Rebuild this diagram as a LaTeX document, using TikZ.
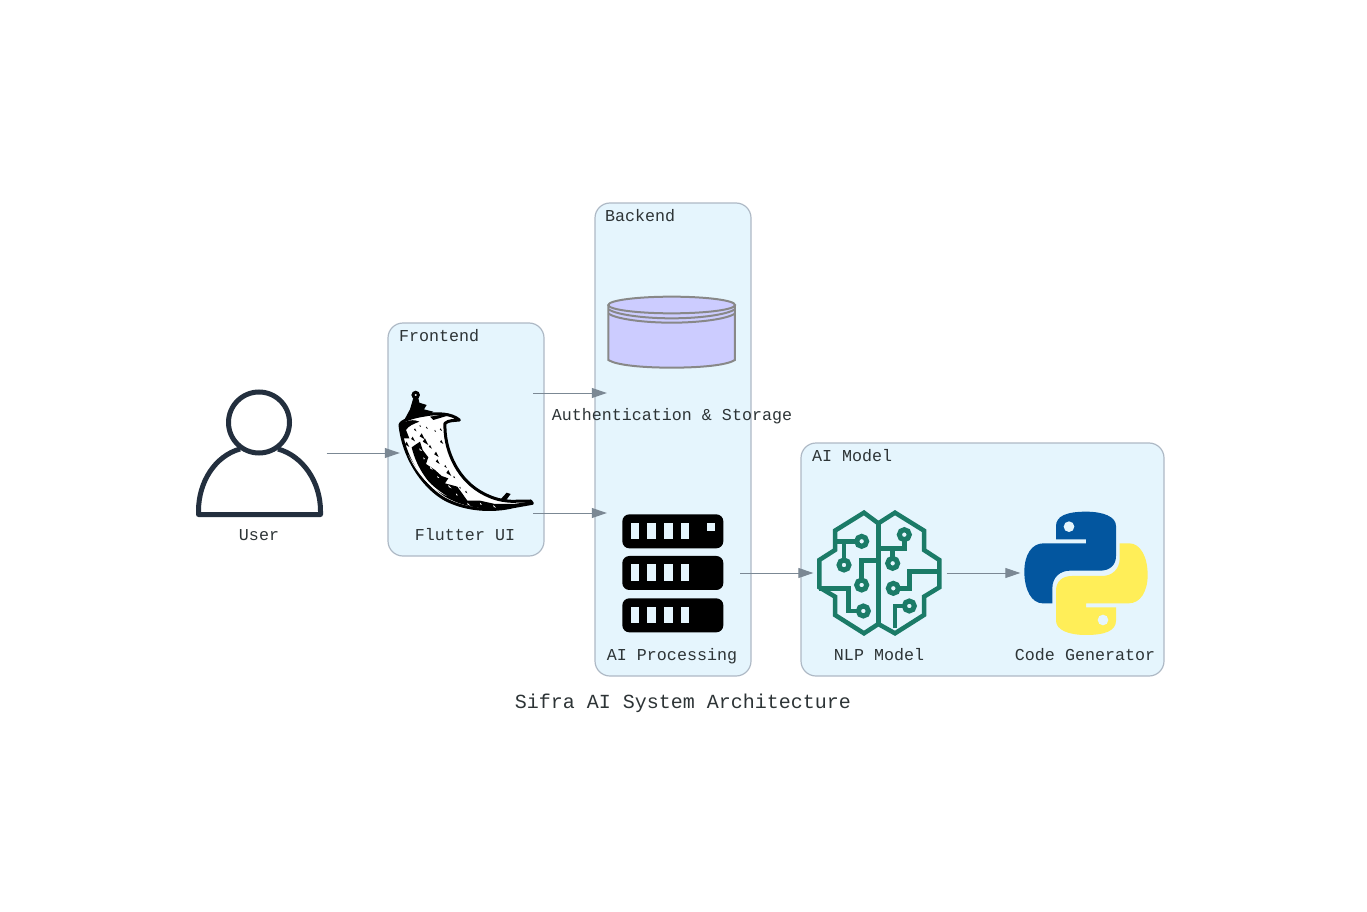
\documentclass[tikz,border=0pt]{standalone}
\usepackage{fontspec}
\setmonofont{Liberation Mono}
\usetikzlibrary{arrows.meta}

\definecolor{clusterfill}{HTML}{E5F5FD}
\definecolor{clusterline}{HTML}{AEB9C5}
\definecolor{edgegrey}{HTML}{7B8894}
\definecolor{textdark}{HTML}{2D3436}
\definecolor{userblue}{HTML}{232F3E}
\definecolor{brainteal}{HTML}{1B7B67}
\definecolor{pyblue}{HTML}{03569F}
\definecolor{pyyellow}{HTML}{FFEE58}
\definecolor{dbfill}{HTML}{CCCCFF}
\definecolor{dbline}{HTML}{888888}

\tikzset{
  cluster/.style={draw=clusterline, fill=clusterfill, line width=1.2pt, rounded corners=15pt},
  clustertext/.style={font=\ttfamily\fontsize{16.67}{20}\selectfont, text=textdark, anchor=west, inner sep=0pt, text height=10.7pt, text depth=0pt},
  caption/.style={font=\ttfamily\fontsize{16.67}{20}\selectfont, text=textdark, inner sep=0pt, text height=10.7pt, text depth=0pt},
  icon/.style={minimum width=133.4pt, minimum height=120pt, inner sep=0pt, outer sep=0pt},
  flow/.style={draw=edgegrey, line width=1pt, -{Triangle[length=15pt,width=10pt]}},
  brainline/.style={draw=brainteal, line width=4.5pt, line join=miter},
  brainring/.style={draw=brainteal, line width=5pt, fill=clusterfill},
}

\begin{document}
\begin{tikzpicture}[x=1pt, y=-1pt]
  \useasboundingbox (0,0) rectangle (1367,912);

  % Clusters
  \draw[cluster] (388,323) rectangle (544,556);
  \draw[cluster] (595,203) rectangle (751,676);
  \draw[cluster] (801,443) rectangle (1164,676);
  \node[clustertext] (frontendtext) at (399,336) {Frontend};
  \node[clustertext] (backendtext) at (605,216) {Backend};
  \node[clustertext] (aimodeltext) at (812,456) {AI Model};

  % Icon nodes
  \node[icon] (user) at (260,453) {};
  \node[icon] (flutter) at (466.5,453) {};
  \node[icon] (auth) at (673.5,333) {};
  \node[icon] (proc) at (673.5,573) {};
  \node[icon] (nlp) at (880,573) {};
  \node[icon] (code) at (1087,573) {};

  % User
  \draw[userblue, line width=5pt, line join=round]
    (240,449) .. controls (215,456) and (198.5,482) .. (198.5,511) -- (198.5,514.5)
    -- (320.5,514.5) -- (320.5,511) .. controls (320.5,482) and (303,456) .. (278,449);
  \draw[userblue, line width=5pt] (259,422.5) circle (30.5);

  % Flutter horn
  \begin{scope}[shift={(380,370)}, x=0.3333pt, y=-0.3333pt]
    \draw[black, line width=3pt, line join=round, fill=white]
      (60,165) .. controls (62,152) and (100,140) .. (135,135)
      .. controls (170,128) and (215,130) .. (238,150)
      .. controls (225,152) and (205,150) .. (195,160)
      .. controls (192,230) and (225,320) .. (300,365)
      .. controls (330,382) and (355,392) .. (395,394)
      -- (452,393) -- (457,400) -- (400,410)
      .. controls (340,425) and (255,422) .. (190,385)
      .. controls (125,345) and (70,260) .. (60,165) -- cycle;
    \draw[black, line width=3pt, fill=white] (107,75) circle (8);
    % collar
    \fill[black] (100,84) -- (115,84) -- (118,98) -- (140,105) -- (132,118) -- (160,125) -- (150,134)
      -- (95,142) -- (70,155) -- (90,118) -- cycle;
    \fill[black] (60,165) .. controls (75,150) and (105,147) .. (118,155)
      .. controls (100,162) and (85,168) .. (78,180) -- (88,205) -- (70,205) -- cycle;
    \fill[black] (150,140) -- (205,131) -- (200,138) -- (160,150) -- cycle;
    % dark band on the outer side
    \fill[black] (95,232) -- (120,215) -- (128,240) -- (145,262) -- (138,282) -- (165,300)
      -- (185,318) -- (205,325) -- (195,340) -- (232,350) -- (250,375) -- (262,392)
      -- (300,392) -- (345,402) -- (400,402) -- (452,395) -- (457,400) -- (400,410)
      .. controls (340,422) and (260,418) .. (195,380)
      .. controls (150,350) and (110,295) .. (95,232) -- cycle;
    % flecks left white in the band
    \fill[white] (85,255) .. controls (110,310) and (150,355) .. (200,378)
      .. controls (155,350) and (115,310) .. (85,255) -- cycle;
    \foreach \fx/\fy/\fs in {118/235/8, 130/262/5, 150/290/9, 172/318/6, 205/345/10, 228/370/6, 262/398/9, 300/398/6, 340/405/8} {
      \fill[white] (\fx,\fy) -- (\fx+\fs,\fy+\fs) -- (\fx+1,\fy+6) -- cycle;
    }
    % engraving flecks
    \foreach \ex/\ey/\es in {80/215/16, 105/175/9, 125/190/18, 140/170/7, 135/205/20, 150/225/11, 165/180/6, 168/245/16,
      182/175/8, 184/210/12, 172/268/14, 196/285/9, 205/300/18, 222/318/7, 120/165/6, 98/200/14, 240/350/6, 258/362/8} {
      \fill[black] (\ex,\ey) -- (\ex+\es/2,\ey+\es) -- (\ex-\es/3,\ey+\es/2) -- cycle;
    }
    \fill[black] (360,390) -- (380,368) -- (392,372) -- (375,395) -- cycle;
  \end{scope}

  % Database
  \begin{scope}[shift={(600,285)}, x=0.3333pt, y=-0.3333pt]
    \draw[dbline, fill=dbfill, line width=2pt]
      (25,60) -- (25,225) .. controls (50,241) and (130,248) .. (215,248)
      .. controls (300,248) and (380,241) .. (405,225) -- (405,60);
    \draw[dbline, fill=dbfill, line width=2pt] (215,60) ellipse (190 and 25);
    \draw[dbline, line width=2pt] (25,73) .. controls (50,89) and (130,100) .. (215,100)
      .. controls (300,100) and (380,89) .. (405,73);
    \draw[dbline, line width=2pt] (25,86) .. controls (50,102) and (130,113) .. (215,113)
      .. controls (300,113) and (380,102) .. (405,86);
  \end{scope}

  % Server rack
  \begin{scope}[shift={(610,505)}, x=0.3333pt, y=-0.3333pt]
    \foreach \top in {28,153,280} {
      \fill[black, rounded corners=7pt] (37,\top) rectangle (340,\top+102);
      \foreach \left in {62,112,163,213} {
        \fill[clusterfill] (\left,\top+25) rectangle (\left+25,\top+75);
      }
    }
    \fill[clusterfill] (290,53) rectangle (315,78);
  \end{scope}

  % Brain
  \begin{scope}[shift={(800,500)}, x=0.3333pt, y=-0.3333pt]
    \draw[brainline] (235,70) -- (192,38) -- (105,92) -- (105,150) -- (58,180) -- (58,262)
      -- (105,290) -- (105,345) -- (192,400) -- (235,372) -- (285,400) -- (372,345)
      -- (372,290) -- (418,262) -- (418,180) -- (372,150) -- (372,92) -- (285,38) -- cycle;
    \draw[brainline] (235,70) -- (235,372);
    \draw[brainline] (105,124) -- (185,124);
    \draw[brainline] (132,124) -- (132,195);
    \draw[brainline] (185,255) -- (185,182) -- (235,182);
    \draw[brainline] (190,333) -- (145,333) -- (145,265) -- (58,265);
    \draw[brainline] (313,104) -- (313,145) -- (235,145);
    \draw[brainline] (278,145) -- (278,190);
    \draw[brainline] (418,215) -- (328,215) -- (328,265) -- (280,265);
    \draw[brainline] (328,318) -- (285,318) -- (285,385);
    \foreach \ringx/\ringy in {185/124, 132/195, 185/255, 190/333, 313/104, 278/190, 280/265, 328/318} {
      \draw[brainring] (\ringx,\ringy) circle (15);
    }
  \end{scope}

  % Python
  \newcommand{\pythonhalf}{
    (228,35) .. controls (170,35) and (138,48) .. (138,78) -- (138,118) -- (228,118) -- (228,130)
    -- (100,130) .. controls (65,130) and (43,165) .. (43,215)
    .. controls (43,270) and (65,310) .. (98,310) -- (127,310) -- (127,265)
    .. controls (127,232) and (150,212) .. (180,212) -- (270,212)
    .. controls (300,212) and (318,195) .. (318,168) -- (318,78)
    .. controls (318,50) and (280,35) .. (228,35) -- cycle
  }
  \begin{scope}[shift={(1010,500)}, x=0.3333pt, y=-0.3333pt]
    \fill[pyblue] \pythonhalf;
    \fill[clusterfill] (177,80) circle (16);
    \begin{scope}[rotate around={180:(228,220)}]
      \fill[pyyellow] \pythonhalf;
      \fill[clusterfill] (177,80) circle (16);
    \end{scope}
  \end{scope}

  % Connectors
  \draw[flow] (user.east) -- (flutter.west);
  \draw[flow] (flutter.north east) -- (auth.south west);
  \draw[flow] (flutter.south east) -- (proc.north west);
  \draw[flow] (proc.east) -- (nlp.west);
  \draw[flow] (nlp.east) -- (code.west);

  % Captions
  \node[caption] (usertext) at (259,535) {User};
  \node[caption] (fluttertext) at (465,535) {Flutter UI};
  \node[caption] (authtext) at (672,415) {Authentication \& Storage};
  \node[caption] (proctext) at (672,655) {AI Processing};
  \node[caption] (nlptext) at (879,655) {NLP Model};
  \node[caption] (codetext) at (1085,655) {Code Generator};
  \node[caption, font=\ttfamily\fontsize{20}{24}\selectfont, text height=13pt] (title) at (683,702) {Sifra AI System Architecture};
\end{tikzpicture}
\end{document}
